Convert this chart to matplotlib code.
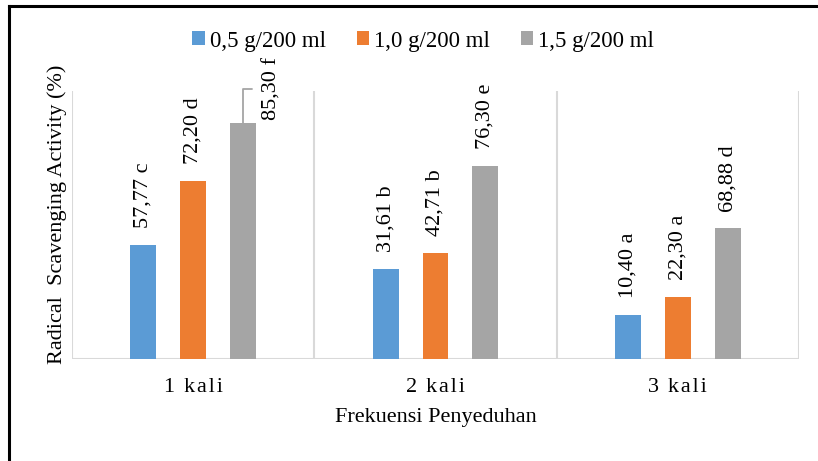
import matplotlib
matplotlib.use("Agg")
import matplotlib.pyplot as plt
from matplotlib.lines import Line2D
import numpy as np

plt.rcParams['font.family'] = ['Liberation Serif', 'DejaVu Serif']

# data (bar heights in plot units, labels as printed)
categories = ["1\u2009\u2009k\u200aa\u200al\u200ai", "2\u2009\u2009k\u200aa\u200al\u200ai", "3\u2009\u2009k\u200aa\u200al\u200ai"]
series_names = ["0,5 g/200 ml", "1,0 g/200 ml", "1,5 g/200 ml"]
heights_05 = [42.4, 33.6, 16.4]
heights_10 = [66.4, 39.4, 23.0]
heights_15 = [87.9, 72.0, 48.6]
labels_05 = ["57,77 c", "31,61 b", "10,40 a"]
labels_10 = ["72,20 d", "42,71 b", "22,30 a"]
labels_15 = ["85,30 f", "76,30 e", "68,88 d"]

colors = ["#5B9BD5", "#ED7D31", "#A5A5A5"]
grid_col = "#D9D9D9"

fig = plt.figure(figsize=(8.18, 4.61), dpi=100)
ax = fig.add_axes([72 / 818, 1 - 358.5 / 461, 727 / 818, 267.5 / 461])

x = np.arange(len(categories))
width = 0.107
step = 0.206
all_h = [heights_05, heights_10, heights_15]
all_l = [labels_05, labels_10, labels_15]

for i, (h, lab) in enumerate(zip(all_h, all_l)):
    xs = x + (i - 1) * step
    ax.bar(xs, h, width=width, color=colors[i], label=series_names[i], zorder=3)
    for j in range(len(xs)):
        if i == 2 and j == 0:
            # this label was dragged aside in the original, with a leader line
            ax.annotate(lab[j], xy=(xs[j], h[j]), xytext=(21, 25), textcoords='offset points',
                        rotation=90, ha='center', va='center', fontsize=16,
                        arrowprops=dict(arrowstyle='-', color='#A5A5A5', lw=1.3,
                                        connectionstyle='angle,angleA=0,angleB=90,rad=0',
                                        relpos=(0, 0.5), shrinkA=6, shrinkB=0))
        else:
            ax.annotate(lab[j], xy=(xs[j], h[j]), xytext=(0, 12), textcoords='offset points',
                        rotation=90, ha='center', va='bottom', fontsize=16)

# vertical category separators
for b in np.arange(-0.5, len(categories), 1.0):
    ax.axvline(b, color=grid_col, lw=1.5, zorder=1)
ax.axhline(0, color=grid_col, lw=1.5, zorder=2)

ax.set_xlim(-0.5, len(categories) - 0.5)
ax.set_ylim(0, 100)
for s in ax.spines.values():
    s.set_visible(False)
ax.set_yticks([])
ax.set_xticks(x)
ax.set_xticklabels(categories, fontsize=16)
ax.tick_params(axis='x', length=0, pad=14)

ax.set_xlabel("Frekuensi Penyeduhan", fontsize=16, va='center')
ax.xaxis.set_label_coords(0.5, -0.222)
ax.set_ylabel("Radical  Scavenging Activity (%)", fontsize=16, va='center')
ax.yaxis.set_label_coords(-0.021, 0.54)

fig.legend(loc='center', bbox_to_anchor=(423 / 818, 1 - 41 / 461), ncol=3, frameon=False,
           fontsize=16.5, handlelength=0.55, handleheight=0.55, handletextpad=0.2,
           columnspacing=1.35, borderpad=0)

# outer frame (cut off at the right and bottom in the original)
fig.add_artist(Line2D([9 / 818, 9 / 818], [-0.05, 1 - 6 / 461], color='black', lw=2.2))
fig.add_artist(Line2D([9 / 818, 1.05], [1 - 6 / 461, 1 - 6 / 461], color='black', lw=2.2))

fig.savefig("out.png", dpi=100)
